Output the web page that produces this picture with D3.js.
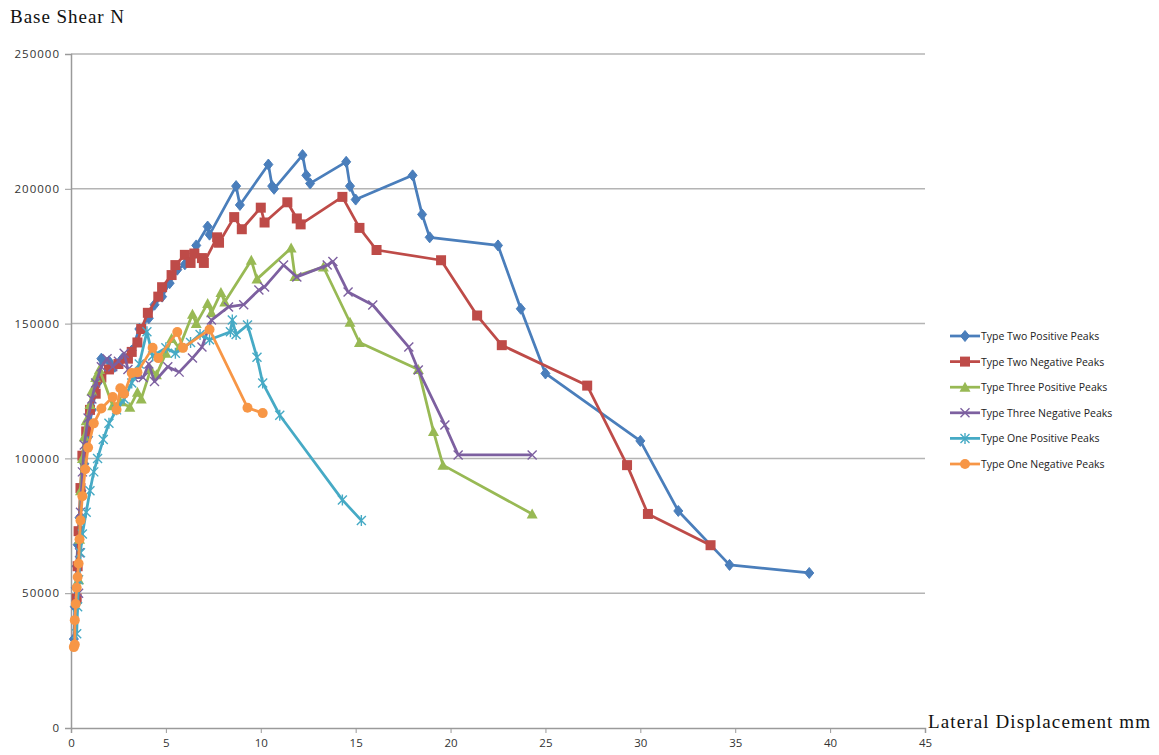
<!DOCTYPE html>
<html>
<head>
<meta charset="utf-8">
<script src="https://cdn.jsdelivr.net/npm/d3@7"></script>
<style>
  body { margin: 0; background: #fff; }
  .tick text { font-family: "Open Sans", "Liberation Sans", sans-serif; fill: #333; }
</style>
</head>
<body>
<div id="plot-container"></div>
<script>
// [displacement mm, base shear N]
const typeTwoPos = [[0.15,33000],[0.2,45000],[0.25,52000],[0.3,60000],[0.35,68000],[0.45,78000],[0.55,88000],[0.7,98000],[0.9,108000],[1.1,118000],[1.4,128000],[1.6,137000],[2.0,136000],[2.3,134000],[2.7,137000],[3.2,140000],[3.6,148000],[4.1,152000],[4.4,157000],[4.8,160000],[5.2,165000],[5.6,170000],[6.0,172000],[6.5,176000],[6.6,179000],[7.2,186000],[7.3,183000],[8.7,201000],[8.9,194000],[10.4,209000],[10.6,201000],[10.7,200000],[12.2,212500],[12.4,205000],[12.6,202000],[14.5,210000],[14.7,201000],[15.0,196000],[18.0,205000],[18.5,190500],[18.9,182000],[22.5,179000],[23.7,155500],[25.0,131500],[30.0,106500],[32.0,80500],[34.7,60500],[38.9,57500]];
const typeTwoNeg = [[0.3,48000],[0.35,60000],[0.4,73000],[0.5,89000],[0.6,101000],[0.8,110000],[1.0,118000],[1.3,124000],[1.6,130000],[2.0,133000],[2.5,135000],[3.0,137000],[3.2,139500],[3.5,143000],[3.7,148000],[4.05,154000],[4.6,160000],[4.8,163500],[5.3,168000],[5.5,171700],[6.0,175500],[6.3,172500],[6.5,176000],[6.9,174300],[7.0,172500],[7.7,182000],[7.8,180000],[8.6,189500],[9.0,185000],[10.0,193000],[10.2,187500],[11.4,195000],[11.9,189000],[12.1,186800],[14.3,197000],[15.2,185500],[16.1,177300],[19.5,173500],[21.4,153000],[22.7,142000],[27.2,127000],[29.3,97500],[30.4,79400],[33.7,67800]];
const typeThreePos = [[0.4,55000],[0.45,70000],[0.5,88000],[0.6,100000],[0.7,108000],[0.8,114000],[1.0,120000],[1.1,125000],[1.3,130000],[1.5,133000],[2.2,119500],[2.6,121000],[3.1,119000],[3.5,124500],[3.7,122000],[4.2,133000],[4.5,131000],[5.0,139000],[5.3,144500],[5.7,141000],[6.4,153500],[6.6,150000],[7.2,157500],[7.4,154000],[7.9,161500],[8.1,158000],[9.5,173500],[9.8,166500],[11.6,178000],[11.8,167500],[13.3,171000],[14.7,150500],[15.2,143000],[18.3,133000],[19.1,110000],[19.6,97500],[24.3,79400]];
const typeThreeNeg = [[0.4,50000],[0.45,65000],[0.5,80000],[0.6,95000],[0.7,105000],[0.9,115000],[1.1,122000],[1.3,128000],[1.6,134000],[1.9,137000],[2.2,134000],[2.5,136000],[2.8,139000],[3.0,133000],[3.3,130000],[3.8,130000],[4.1,135000],[4.4,128500],[5.1,134000],[5.7,132000],[6.4,137200],[6.9,141300],[7.4,151300],[8.3,156200],[9.1,157000],[9.9,162500],[10.2,163600],[11.2,171700],[11.9,167300],[13.5,171700],[13.8,173000],[14.6,161700],[15.9,156900],[17.8,141300],[18.3,132800],[19.7,112400],[20.4,101300],[24.3,101300]];
const typeOnePos = [[0.3,35000],[0.35,45000],[0.4,55000],[0.5,65000],[0.6,72000],[0.8,80000],[1.0,88000],[1.2,95000],[1.4,100000],[1.7,107000],[2.0,113000],[2.4,118000],[2.8,122000],[3.2,128000],[3.6,135000],[4.0,147000],[4.3,138000],[5.0,141000],[5.5,139000],[6.3,143000],[6.8,146000],[7.3,144000],[8.4,147000],[8.5,151300],[8.7,146000],[9.3,149500],[9.8,137500],[10.1,128000],[11.0,116000],[14.3,84600],[15.3,77000]];
const typeOneNeg = [[0.15,30000],[0.2,31000],[0.2,40000],[0.25,46000],[0.3,52000],[0.35,56000],[0.4,61000],[0.45,70000],[0.5,77000],[0.6,86000],[0.75,96000],[0.9,104000],[1.2,113000],[1.6,118500],[2.2,122800],[2.4,118000],[2.6,126000],[2.8,124000],[3.2,131700],[3.5,132000],[4.3,141000],[4.6,137200],[5.6,146900],[5.9,141000],[7.3,147800],[9.3,118800],[10.1,116800]];

const seriesNames = ["Type Two Positive Peaks", "Type Two Negative Peaks", "Type Three Positive Peaks",
                     "Type Three Negative Peaks", "Type One Positive Peaks", "Type One Negative Peaks"];
const seriesColors = ["#4A7EBB", "#BE4B48", "#98B954", "#7D60A0", "#46AAC5", "#F79646"];
const seriesMarkers = ["diamond", "square", "triangle", "x", "star", "circle"];
const seriesData = [typeTwoPos, typeTwoNeg, typeThreePos, typeThreeNeg, typeOnePos, typeOneNeg];

const xTicks = [0, 5, 10, 15, 20, 25, 30, 35, 40, 45];
const yTicks = [0, 50000, 100000, 150000, 200000, 250000];

const margin = { top: 54, right: 234, bottom: 27, left: 71 };
const width = 1159 - margin.left - margin.right;
const height = 755 - margin.top - margin.bottom;

const root = d3.select("#plot-container")
    .append("svg")
    .attr("width", 1159)
    .attr("height", 755);

const svg = root.append("g")
    .attr("transform", "translate(" + margin.left + "," + margin.top + ")");

const x = d3.scaleLinear().domain([0, 45]).range([0, width]);
const y = d3.scaleLinear().domain([0, 250000]).range([height, 0]);

// gridlines
svg.append("g")
    .selectAll("line")
    .data(yTicks.filter(d => d > 0))
    .enter()
    .append("line")
    .attr("x1", 0)
    .attr("x2", width)
    .attr("y1", d => y(d))
    .attr("y2", d => y(d))
    .attr("stroke", "#b4b4b4")
    .attr("stroke-width", 1.5);

const xAxis = svg.append("g")
    .attr("transform", "translate(0," + height + ")")
    .call(d3.axisBottom(x).tickValues(xTicks).tickSize(5).tickPadding(6).tickFormat(d3.format("d")));

const yAxis = svg.append("g")
    .call(d3.axisLeft(y).tickValues(yTicks).tickSize(6).tickPadding(5).tickFormat(d3.format("d")));

[xAxis, yAxis].forEach(ax => {
    ax.select(".domain").attr("stroke", "#9a9a9a").attr("stroke-width", 1.5);
    ax.selectAll(".tick line").attr("stroke", "#9a9a9a");
    ax.selectAll(".tick text").style("font-size", "11.5px");
});
yAxis.selectAll(".tick text").style("letter-spacing", "1px");

root.append("text")
    .attr("x", 10)
    .attr("y", 23)
    .attr("font-family", "'Liberation Serif', 'Times New Roman', serif")
    .attr("font-size", 19)
    .attr("fill", "#111")
    .attr("textLength", 114)
    .text("Base Shear N");

root.append("text")
    .attr("x", 928)
    .attr("y", 728)
    .attr("font-family", "'Liberation Serif', 'Times New Roman', serif")
    .attr("font-size", 19)
    .attr("fill", "#111")
    .attr("textLength", 222)
    .text("Lateral Displacement mm");

const line = d3.line()
    .x(d => x(d[0]))
    .y(d => y(d[1]));

function drawMarker(g, type, color) {
    if (type === "diamond") {
        g.append("path").attr("d", "M0,-5.5L4.5,0L0,5.5L-4.5,0Z").attr("fill", color).attr("stroke", color);
    } else if (type === "square") {
        g.append("rect").attr("x", -5).attr("y", -5).attr("width", 10).attr("height", 10).attr("fill", color);
    } else if (type === "triangle") {
        g.append("path").attr("d", "M0,-5.5L5.5,4.5L-5.5,4.5Z").attr("fill", color);
    } else if (type === "x") {
        g.append("path").attr("d", "M-4.5,-4.5L4.5,4.5M-4.5,4.5L4.5,-4.5").attr("stroke", color).attr("stroke-width", 1.4);
    } else if (type === "star") {
        g.append("path").attr("d", "M-4.5,-4.5L4.5,4.5M-4.5,4.5L4.5,-4.5M0,-5.5L0,5.5").attr("stroke", color).attr("stroke-width", 1.4);
    } else {
        g.append("circle").attr("r", 5).attr("fill", color);
    }
}

seriesData.forEach((data, i) => {
    svg.append("path")
        .datum(data)
        .attr("fill", "none")
        .attr("stroke", seriesColors[i])
        .attr("stroke-width", 2.75)
        .attr("stroke-linejoin", "round")
        .attr("d", line);

    svg.append("g")
        .selectAll("g")
        .data(data)
        .enter()
        .append("g")
        .attr("transform", d => "translate(" + x(d[0]) + "," + y(d[1]) + ")")
        .each(function() { drawMarker(d3.select(this), seriesMarkers[i], seriesColors[i]); });
});

// legend
const legend = root.append("g").attr("transform", "translate(950,336)");
seriesNames.forEach((name, i) => {
    const row = legend.append("g").attr("transform", "translate(0," + (i * 25.6) + ")");
    row.append("line")
        .attr("x1", 0).attr("x2", 30)
        .attr("stroke", seriesColors[i])
        .attr("stroke-width", 2.75);
    drawMarker(row.append("g").attr("transform", "translate(15,0)"), seriesMarkers[i], seriesColors[i]);
    row.append("text")
        .attr("x", 31)
        .attr("y", 4)
        .attr("font-family", "'Open Sans', 'Liberation Sans', sans-serif")
        .attr("font-size", 10.5)
        .attr("fill", "#222")
        .text(name);
});
</script>
</body>
</html>
